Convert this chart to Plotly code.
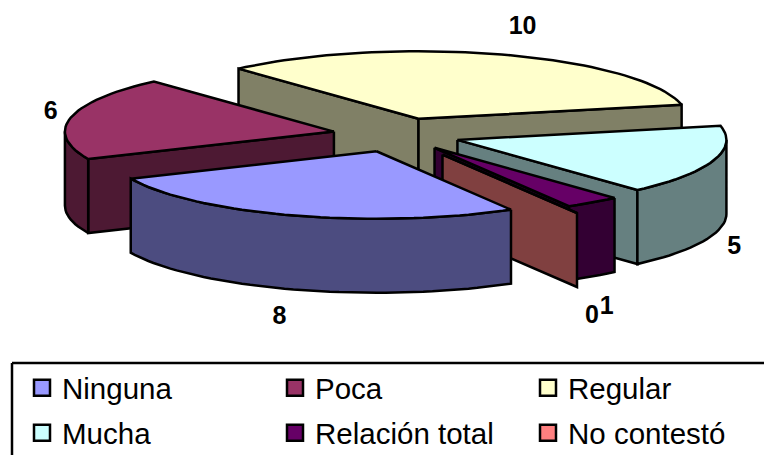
import math
import plotly.graph_objects as go

# Survey answers
categories = ["Ninguna", "Poca", "Regular", "Mucha", "Relación total", "No contestó"]
values = [8, 6, 10, 5, 1, 0]

# Face colours per slice
top_colors = ["#9999FF", "#993366", "#FFFFCC", "#CCFFFF", "#660066", "#FF8080"]
wall_colors = ["#4C4C80", "#4D1933", "#808066", "#668080", "#330033", "#804040"]

# Pie projection, in screen pixels
CENTER_X, CENTER_Y = 397.5, 135.0
RADIUS_X, RADIUS_Y = 269.0, 67.5
DEPTH = 74.0
FIRST_ANGLE = -60.0
explode = [68, 65, 68, 63, 63, 90]
# Label offset from the middle of each slice's outer rim
label_offsets = [(-14, 102), (-20, -5), (21, -27), (21, 87), (14, 105), (15, 104)]
# Back-to-front painting order
draw_order = [2, 1, 3, 4, 5, 0]


def rim(cx, cy, angle):
    a = math.radians(angle)
    return cx + RADIUS_X * math.cos(a), cy - RADIUS_Y * math.sin(a)


def arc(cx, cy, start, end):
    steps = max(2, int(abs(start - end) / 2) + 1)
    return [rim(cx, cy, start + (end - start) * i / (steps - 1)) for i in range(steps)]


fig = go.Figure()


def add_face(points, color):
    xs = [p[0] for p in points] + [points[0][0]]
    ys = [p[1] for p in points] + [points[0][1]]
    fig.add_trace(go.Scatter(
        x=xs, y=ys, mode="lines", fill="toself", fillcolor=color,
        line=dict(color="black", width=2.5), hoverinfo="skip", showlegend=False,
    ))


total = sum(values)
spans = []
cursor = FIRST_ANGLE
for v in values:
    spans.append((cursor, cursor - 360.0 * v / total))
    cursor -= 360.0 * v / total

label_x, label_y, label_text = [], [], []
for i in draw_order:
    start, end = spans[i]
    mid = (start + end) / 2
    m = math.radians(mid)
    ax = CENTER_X + explode[i] * math.cos(m)
    ay = CENTER_Y - explode[i] * RADIUS_Y / RADIUS_X * math.sin(m)

    # Cut faces that turn towards the viewer
    for angle, visible in ((start, math.cos(math.radians(start)) < 0),
                           (end, math.cos(math.radians(end)) > 0)):
        if visible:
            px, py = rim(ax, ay, angle)
            add_face([(ax, ay), (px, py), (px, py + DEPTH), (ax, ay + DEPTH)], wall_colors[i])

    # Outer wall: only the near half of the rim shows
    near = []
    for k in range(-1, 2):
        lo = max(end, -180 + 360 * k)
        hi = min(start, 360 * k)
        if hi > lo:
            near.append((hi, lo))
    for hi, lo in near:
        upper = arc(ax, ay, hi, lo)
        lower = [(x, y + DEPTH) for x, y in reversed(upper)]
        add_face(upper + lower, wall_colors[i])

    # Top face
    add_face([(ax, ay)] + arc(ax, ay, start, end), top_colors[i])

    rx, ry = rim(ax, ay, mid)
    label_x.append(rx + label_offsets[i][0])
    label_y.append(ry + label_offsets[i][1])
    label_text.append(str(values[i]))

fig.add_trace(go.Scatter(
    x=label_x, y=label_y, mode="text", text=label_text, textposition="middle center",
    textfont=dict(family="Liberation Sans", size=25, color="black"),
    texttemplate="<b>%{text}</b>", hoverinfo="skip", showlegend=False,
))

# Legend swatches, three to a row
for i, name in enumerate(categories):
    fig.add_trace(go.Scatter(
        x=[None], y=[None], mode="markers", name=name,
        legend="legend" if i < 3 else "legend2",
        marker=dict(symbol="square", size=17, color=top_colors[i],
                    line=dict(color="black", width=2.5)),
    ))

legend_style = dict(
    orientation="h", xanchor="left", yanchor="middle",
    entrywidth=208, entrywidthmode="pixels", itemclick=False, itemdoubleclick=False,
    font=dict(family="Liberation Sans", size=29.5, color="black"),
    bgcolor="rgba(0,0,0,0)",
)

fig.update_layout(
    width=764, height=455, margin=dict(l=0, r=0, t=0, b=0, autoexpand=False),
    paper_bgcolor="white", plot_bgcolor="white",
    xaxis=dict(range=[0, 764], visible=False, fixedrange=True),
    yaxis=dict(range=[455, 0], visible=False, fixedrange=True),
    legend=dict(x=22 / 764, y=1 - 388 / 455, **legend_style),
    legend2=dict(x=22 / 764, y=1 - 433 / 455, **legend_style),
    shapes=[
        dict(type="line", xref="x", yref="y", x0=12, x1=764, y0=363, y1=363,
             line=dict(color="black", width=2.5)),
        dict(type="line", xref="x", yref="y", x0=12, x1=12, y0=363, y1=455,
             line=dict(color="black", width=2.5)),
    ],
)

fig.write_html("out.html", config={"displayModeBar": False})
